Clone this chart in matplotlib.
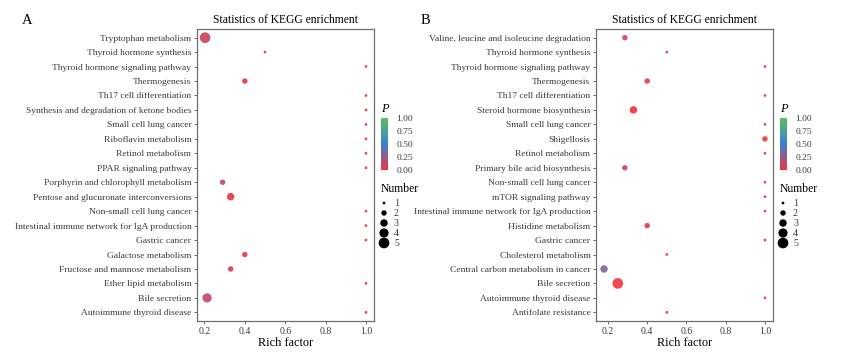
import numpy as np
import matplotlib.pyplot as plt
from matplotlib.colors import LinearSegmentedColormap

plt.rcParams['font.family'] = ['Liberation Serif', 'DejaVu Serif']

# panel A
pathways_a = ["Tryptophan metabolism", "Thyroid hormone synthesis",
              "Thyroid hormone signaling pathway", "Thermogenesis",
              "Th17 cell differentiation", "Synthesis and degradation of ketone bodies",
              "Small cell lung cancer", "Riboflavin metabolism", "Retinol metabolism",
              "PPAR signaling pathway", "Porphyrin and chlorophyll metabolism",
              "Pentose and glucuronate interconversions", "Non-small cell lung cancer",
              "Intestinal immune network for IgA production", "Gastric cancer",
              "Galactose metabolism", "Fructose and mannose metabolism",
              "Ether lipid metabolism", "Bile secretion", "Autoimmune thyroid disease"]
rich_a = [0.203, 0.5, 1.0, 0.4, 1.0, 1.0, 1.0, 1.0, 1.0, 1.0,
          0.29, 0.33, 1.0, 1.0, 1.0, 0.4, 0.33, 1.0, 0.213, 1.0]
number_a = [5, 1, 1, 2, 1, 1, 1, 1, 1, 1, 2, 3, 1, 1, 1, 2, 2, 1, 4, 1]
p_a = [0.11, 0.01, 0.01, 0.03, 0.01, 0.01, 0.01, 0.01, 0.01, 0.01,
       0.16, 0.02, 0.01, 0.01, 0.01, 0.04, 0.06, 0.01, 0.14, 0.01]

# panel B
pathways_b = ["Valine, leucine and isoleucine degradation", "Thyroid hormone synthesis",
              "Thyroid hormone signaling pathway", "Thermogenesis",
              "Th17 cell differentiation", "Steroid hormone biosynthesis",
              "Small cell lung cancer", "Shigellosis", "Retinol metabolism",
              "Primary bile acid biosynthesis", "Non-small cell lung cancer",
              "mTOR signaling pathway", "Intestinal immune network for IgA production",
              "Histidine metabolism", "Gastric cancer", "Cholesterol metabolism",
              "Central carbon metabolism in cancer", "Bile secretion",
              "Autoimmune thyroid disease", "Antifolate resistance"]
rich_b = [0.286, 0.5, 1.0, 0.4, 1.0, 0.33, 1.0, 1.0, 1.0, 0.286,
          1.0, 1.0, 1.0, 0.4, 1.0, 0.5, 0.18, 0.25, 1.0, 0.5]
number_b = [2, 1, 1, 2, 1, 3, 1, 2, 1, 2, 1, 1, 1, 2, 1, 1, 3, 5, 1, 1]
p_b = [0.12, 0.01, 0.01, 0.04, 0.01, 0.005, 0.01, 0.005, 0.01, 0.12,
       0.01, 0.01, 0.01, 0.03, 0.01, 0.01, 0.3, 0.005, 0.01, 0.01]

legend_numbers = [1, 2, 3, 4, 5]
p_ticks = [0.0, 0.25, 0.5, 0.75, 1.0]

cmap = LinearSegmentedColormap.from_list("kegg", ["#F2353D", "#3C80D8", "#5BC055"])
tick_col = "#3a3a3a"


def dot_size(n):
    d = 2.0 + 4.6 * (np.sqrt(np.asarray(n, float)) - 1)  # diameter in pt
    return d ** 2


W, H = 843, 352
fig = plt.figure(figsize=(W / 100, H / 100), dpi=100)


def panel(letter, x0, names, rich, num, pv):
    ax = fig.add_axes([x0 / W, (H - 321) / H, 177 / W, 292 / H])
    y = np.arange(len(names))[::-1]
    ax.scatter(rich, y, s=dot_size(num), c=pv, cmap=cmap, vmin=0, vmax=1,
               alpha=0.92, edgecolors='none', zorder=3)
    lo = min(rich)
    span = max(rich) - lo
    ax.set_xlim(lo - 0.05 * span, max(rich) + 0.05 * span)
    ax.set_ylim(-0.6, len(names) - 0.4)
    ax.set_yticks(y)
    ax.set_yticklabels(names, fontsize=6.8, color=tick_col)
    ax.set_xticks([0.2, 0.4, 0.6, 0.8, 1.0])
    ax.set_xticklabels(["0.2", "0.4", "0.6", "0.8", "1.0"], fontsize=7.0, color=tick_col)
    ax.tick_params(length=2.5, width=0.6, color="#555555", pad=1.5)
    for sp in ax.spines.values():
        sp.set_color("#6e6e6e")
        sp.set_linewidth(0.9)
    ax.set_xlabel("Rich factor", fontsize=8.8, labelpad=1)
    ax.set_title("Statistics of KEGG enrichment", fontsize=8.4, pad=4)
    fig.text((x0 - 175) / W, (H - 20) / H, letter, fontsize=10.5, va='center')

    # colour bar
    cx = x0 + 184
    cax = fig.add_axes([cx / W, (H - 170) / H, 7 / W, 52 / H])
    grad = np.linspace(0, 1, 200).reshape(-1, 1)
    cax.imshow(grad, cmap=cmap, aspect='auto', origin='lower', extent=[0, 1, 0, 1])
    cax.set_xticks([])
    cax.set_yticks(p_ticks)
    cax.set_yticklabels(["%.2f" % t for t in p_ticks], fontsize=6.8, color=tick_col)
    cax.yaxis.tick_right()
    cax.tick_params(axis='y', length=0, pad=6)
    for sp in cax.spines.values():
        sp.set_visible(False)
    fig.text(cx / W, (H - 109) / H, "P", fontsize=9, style='italic', va='center')

    # size legend
    fig.text(cx / W, (H - 189) / H, "Number", fontsize=8.4, va='center')
    lax = fig.add_axes([(cx + 3) / W, (H - 248) / H, 30 / W, 50 / H])
    ly = np.arange(len(legend_numbers))[::-1]
    lax.scatter([0] * len(legend_numbers), ly, s=dot_size(legend_numbers), c='black',
                edgecolors='none', clip_on=False)
    for v, yy in zip(legend_numbers, ly):
        lax.text(1.0, yy, str(v), fontsize=7.2, color=tick_col, va='center')
    lax.set_xlim(0, 3.0)
    lax.set_ylim(-0.5, 4.5)
    lax.axis('off')


panel("A", 197, pathways_a, rich_a, number_a, p_a)
panel("B", 596, pathways_b, rich_b, number_b, p_b)

fig.savefig("out.png", dpi=100)
